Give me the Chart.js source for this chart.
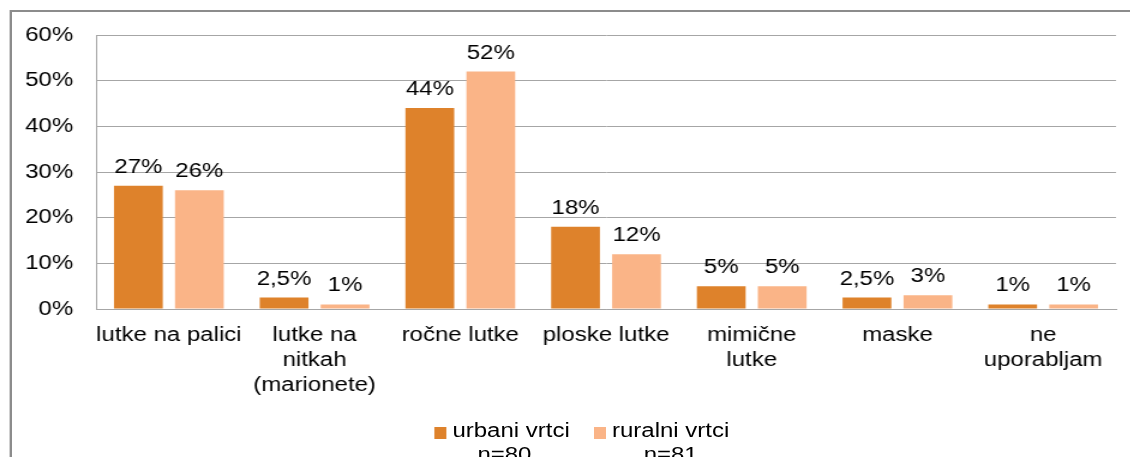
<!DOCTYPE html>
<html>
<head>
<meta charset="utf-8">
<script src="https://cdn.jsdelivr.net/npm/chart.js@4/dist/chart.umd.min.js"></script>
<style>
  html, body { margin: 0; padding: 0; background: #fff; overflow: hidden; }
  #wrap {
    position: relative; width: 942px; height: 457px;
    transform: scaleX(1.2); transform-origin: 0 0;
    font-family: "Liberation Sans", Arial, sans-serif; color: #000;
  }
  #frame {
    position: absolute; left: 8px; top: 10px; right: -20px; bottom: -20px;
    border: 2px solid #8c8c8c;
  }
  #chart { position: absolute; left: 0; top: 0; }
  .sq { position: absolute; width: 10px; height: 12px; top: 427px; }
  .lg { position: absolute; font-size: 20px; line-height: 24px; top: 418px; white-space: nowrap; text-align: center; }
</style>
</head>
<body>
<div id="wrap">
  <div id="frame"></div>
  <canvas id="chart" width="942" height="457"></canvas>
  <div class="sq" style="left:362px;background:#de822b"></div>
  <div class="lg" style="left:377px">urbani vrtci<br>n=80&nbsp;&nbsp;</div>
  <div class="sq" style="left:495px;background:#fab487"></div>
  <div class="lg" style="left:510px">ruralni vrtci<br>n=81</div>
</div>
<script>
var categories = [
    ['lutke na palici'],
    ['lutke na', 'nitkah', '(marionete)'],
    ['ročne lutke'],
    ['ploske lutke'],
    ['mimične', 'lutke'],
    ['maske'],
    ['ne', 'uporabljam']
];
var urbanValues = [27, 2.5, 44, 18, 5, 2.5, 1];
var ruralValues = [26, 1, 52, 12, 5, 3, 1];
var yTicks = [0, 10, 20, 30, 40, 50, 60];

function pct(v) {
    return String(v).replace('.', ',') + '%';
}

// labels above the bars
var barLabels = {
    id: 'barLabels',
    afterDatasetsDraw: function(chart) {
        var ctx = chart.ctx;
        ctx.save();
        ctx.font = '20px "Liberation Sans", Arial, sans-serif';
        ctx.fillStyle = '#000';
        ctx.textAlign = 'center';
        ctx.textBaseline = 'alphabetic';
        chart.data.datasets.forEach(function(ds, i) {
            chart.getDatasetMeta(i).data.forEach(function(bar, j) {
                ctx.fillText(pct(ds.data[j]), bar.x, bar.y - 13);
            });
        });
        ctx.restore();
    }
};

Chart.defaults.font.family = '"Liberation Sans", Arial, sans-serif';
Chart.defaults.font.size = 20;
Chart.defaults.color = '#000';

new Chart(document.getElementById('chart'), {
    type: 'bar',
    data: {
        labels: categories,
        datasets: [
            { label: 'urbani vrtci n=80', data: urbanValues, backgroundColor: '#de822b' },
            { label: 'ruralni vrtci n=81', data: ruralValues, backgroundColor: '#fab487' }
        ]
    },
    options: {
        responsive: false,
        animation: false,
        devicePixelRatio: 1,
        layout: { padding: { left: 0, right: 12, top: 35, bottom: 0 } },
        plugins: { legend: { display: false }, tooltip: { enabled: false } },
        datasets: { bar: { categoryPercentage: 0.837, barPercentage: 0.80 } },
        scales: {
            x: {
                grid: { display: false, drawTicks: false },
                border: { color: '#a6a6a6', width: 1 },
                ticks: { padding: 14, font: { size: 20, lineHeight: 1.25 }, maxRotation: 0, autoSkip: false },
                afterFit: function(axis) { axis.height = 148; }
            },
            y: {
                min: 0, max: 60,
                afterBuildTicks: function(axis) { axis.ticks = yTicks.map(function(v) { return { value: v }; }); },
                grid: { color: '#a6a6a6', drawTicks: false },
                border: { color: '#a6a6a6', width: 1 },
                ticks: { padding: 19, callback: function(v) { return v + '%'; } },
                afterFit: function(axis) {
                    axis.width = 80;
                    axis.paddingTop = 0;
                    axis.paddingBottom = 0;
                }
            }
        }
    },
    plugins: [barLabels]
});
</script>
</body>
</html>
